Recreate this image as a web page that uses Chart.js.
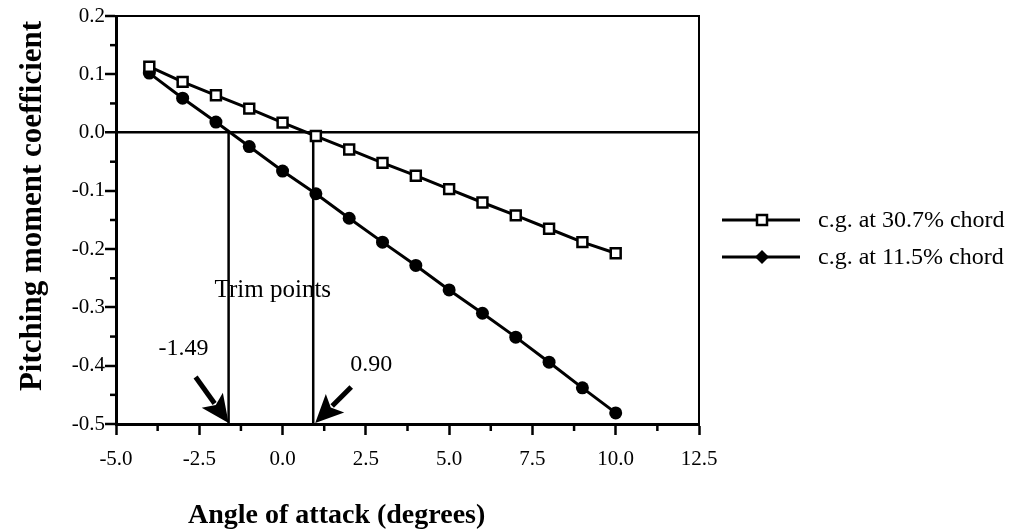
<!DOCTYPE html>
<html>
<head>
<meta charset="utf-8">
<script src="https://cdn.jsdelivr.net/npm/chart.js@4.4.1/dist/chart.umd.min.js"></script>
<style>
    html, body { margin: 0; padding: 0; background: #fff; }
    #wrap { width: 1027px; height: 530px; position: relative; }
</style>
</head>
<body>
<div id="wrap"><canvas id="pitch-chart"></canvas></div>
<script>
// angle of attack (deg) for both runs
const alpha = [-4, -3, -2, -1, 0, 1, 2, 3, 4, 5, 6, 7, 8, 9, 10];
// c.g. at 30.7% chord
const cmAft = [0.113, 0.087, 0.064, 0.041, 0.017, -0.006, -0.029, -0.052, -0.074, -0.097, -0.12, -0.142, -0.165, -0.188, -0.207];
// c.g. at 11.5% chord
const cmFwd = [0.102, 0.059, 0.018, -0.024, -0.066, -0.105, -0.147, -0.188, -0.228, -0.27, -0.31, -0.351, -0.394, -0.438, -0.481];

const seriesNames = ['c.g. at 30.7% chord', 'c.g. at 11.5% chord'];
const xTitle = 'Angle of attack (degrees)';
const yTitle = 'Pitching moment coefficient';

// trim points (where the lines sit in the picture) and the printed values
const trimX = [-1.62, 0.92];
const trimLabels = ['-1.49', '0.90'];
const trimText = 'Trim points';

const serif = "'Liberation Serif', 'Times New Roman', serif";

function fmt(v) {
    if (Math.abs(v) < 1e-9) return '0.0';
    return v.toFixed(1);
}

function toPoints(xs, ys) {
    return xs.map((x, i) => ({ x: x, y: ys[i] }));
}

function drawArrow(ctx, x0, y0, x1, y1) {
    const ang = Math.atan2(y1 - y0, x1 - x0);
    const headLen = 28, headHalf = 13;
    const bx = x1 - headLen * Math.cos(ang), by = y1 - headLen * Math.sin(ang);
    ctx.beginPath();
    ctx.moveTo(x0, y0);
    ctx.lineTo(bx + 4 * Math.cos(ang), by + 4 * Math.sin(ang));
    ctx.lineWidth = 5;
    ctx.stroke();
    ctx.beginPath();
    ctx.moveTo(x1, y1);
    ctx.lineTo(bx - headHalf * Math.sin(ang), by + headHalf * Math.cos(ang));
    ctx.lineTo(bx + 6 * Math.cos(ang), by + 6 * Math.sin(ang));
    ctx.lineTo(bx + headHalf * Math.sin(ang), by - headHalf * Math.cos(ang));
    ctx.closePath();
    ctx.fill();
}

// frame, minor ticks, trim lines, arrows, titles and legend
const extras = {
    id: 'extras',
    beforeDatasetsDraw(chart) {
        const { ctx, chartArea: a, scales: { x, y } } = chart;
        ctx.save();
        ctx.strokeStyle = '#000';
        ctx.lineWidth = 2.5;
        // trim lines from Cm = 0 down to the axis
        trimX.forEach(t => {
            const px = x.getPixelForValue(t);
            ctx.beginPath();
            ctx.moveTo(px, y.getPixelForValue(0));
            ctx.lineTo(px, a.bottom);
            ctx.stroke();
        });
        ctx.restore();
    },
    afterDraw(chart) {
        const { ctx, chartArea: a, scales: { x, y } } = chart;
        ctx.save();
        ctx.strokeStyle = '#000';
        ctx.fillStyle = '#000';

        // top and right edges of the box
        ctx.lineWidth = 2;
        ctx.beginPath();
        ctx.moveTo(a.left, a.top);
        ctx.lineTo(a.right, a.top);
        ctx.lineTo(a.right, a.bottom);
        ctx.stroke();

        // minor ticks halfway between the labelled ones
        ctx.lineWidth = 2.5;
        for (let v = -3.75; v < 12.5; v += 2.5) {
            const px = x.getPixelForValue(v);
            ctx.beginPath();
            ctx.moveTo(px, a.bottom);
            ctx.lineTo(px, a.bottom + 7);
            ctx.stroke();
        }
        for (let v = 0.15; v > -0.5; v -= 0.1) {
            const py = y.getPixelForValue(v);
            ctx.beginPath();
            ctx.moveTo(a.left, py);
            ctx.lineTo(a.left - 6, py);
            ctx.stroke();
        }

        // arrows pointing at the trim points
        const p0 = x.getPixelForValue(trimX[0]);
        const p1 = x.getPixelForValue(trimX[1]);
        drawArrow(ctx, p0 - 33, a.bottom - 47, p0, a.bottom - 1);
        drawArrow(ctx, p1 + 38, a.bottom - 37, p1 + 2, a.bottom - 1);

        ctx.textBaseline = 'alphabetic';
        ctx.textAlign = 'left';
        ctx.font = '25px ' + serif;
        ctx.fillText(trimText, p0 - 14, a.bottom - 127);
        ctx.font = '24px ' + serif;
        ctx.fillText(trimLabels[0], p0 - 70, a.bottom - 69);
        ctx.fillText(trimLabels[1], p1 + 37, a.bottom - 53);

        // axis titles
        ctx.font = 'bold 28px ' + serif;
        ctx.fillText(xTitle, 188, 523);
        ctx.save();
        ctx.translate(33, 206);
        ctx.rotate(-Math.PI / 2);
        ctx.textAlign = 'center';
        ctx.textBaseline = 'middle';
        ctx.font = 'bold 31px ' + serif;
        ctx.fillText(yTitle, 0, 0);
        ctx.restore();

        // legend
        const rows = [220, 257];
        ctx.font = '24px ' + serif;
        ctx.textBaseline = 'middle';
        chart.data.datasets.forEach((ds, i) => {
            const ly = rows[i];
            ctx.lineWidth = 3;
            ctx.beginPath();
            ctx.moveTo(722, ly);
            ctx.lineTo(800, ly);
            ctx.stroke();
            if (i === 0) {
                ctx.fillStyle = '#fff';
                ctx.fillRect(757, ly - 5, 10, 10);
                ctx.lineWidth = 2.5;
                ctx.strokeRect(757, ly - 5, 10, 10);
            } else {
                ctx.fillStyle = '#000';
                ctx.beginPath();
                ctx.moveTo(762, ly - 7);
                ctx.lineTo(769, ly);
                ctx.lineTo(762, ly + 7);
                ctx.lineTo(755, ly);
                ctx.closePath();
                ctx.fill();
            }
            ctx.fillStyle = '#000';
            ctx.fillText(ds.label, 818, ly + 1);
        });
        ctx.restore();
    }
};

const chartCfg = {
    type: 'line',
    data: {
        datasets: [
            {
                label: seriesNames[0],
                data: toPoints(alpha, cmAft),
                borderColor: '#000',
                borderWidth: 3,
                pointStyle: 'rect',
                pointRadius: 7,
                pointBorderWidth: 2.5,
                pointBackgroundColor: '#fff',
                pointBorderColor: '#000',
                tension: 0
            },
            {
                label: seriesNames[1],
                data: toPoints(alpha, cmFwd),
                borderColor: '#000',
                borderWidth: 3,
                pointStyle: 'circle',
                pointRadius: 6.5,
                pointBorderWidth: 0,
                pointBackgroundColor: '#000',
                tension: 0
            }
        ]
    },
    options: {
        responsive: true,
        maintainAspectRatio: false,
        animation: false,
        layout: { padding: { top: 16, right: 328, left: 0, bottom: 0 } },
        plugins: {
            legend: { display: false },
            tooltip: { enabled: false }
        },
        scales: {
            x: {
                type: 'linear',
                min: -5,
                max: 12.5,
                border: { display: true, color: '#000', width: 3 },
                grid: { drawOnChartArea: false, drawTicks: true, tickLength: 11, tickColor: '#000', tickWidth: 2.5 },
                ticks: {
                    stepSize: 2.5,
                    color: '#000',
                    padding: 12,
                    font: { family: serif, size: 21 },
                    callback: v => fmt(v)
                },
                afterFit: s => { s.height = 106; }
            },
            y: {
                min: -0.5,
                max: 0.2,
                border: { display: true, color: '#000', width: 3 },
                grid: {
                    drawOnChartArea: true,
                    drawTicks: true,
                    tickLength: 11,
                    tickColor: '#000',
                    tickWidth: 2.5,
                    color: ctx => (ctx.tick && Math.abs(ctx.tick.value) < 1e-9 ? '#000' : 'rgba(0,0,0,0)'),
                    lineWidth: ctx => (ctx.tick && Math.abs(ctx.tick.value) < 1e-9 ? 2.5 : 0)
                },
                ticks: {
                    stepSize: 0.1,
                    color: '#000',
                    padding: 0,
                    font: { family: serif, size: 21 },
                    callback: v => fmt(v)
                },
                afterFit: s => { s.width = 116; }
            }
        }
    },
    plugins: [extras]
};

const pitchChart = new Chart(document.getElementById('pitch-chart'), chartCfg);
</script>
</body>
</html>
